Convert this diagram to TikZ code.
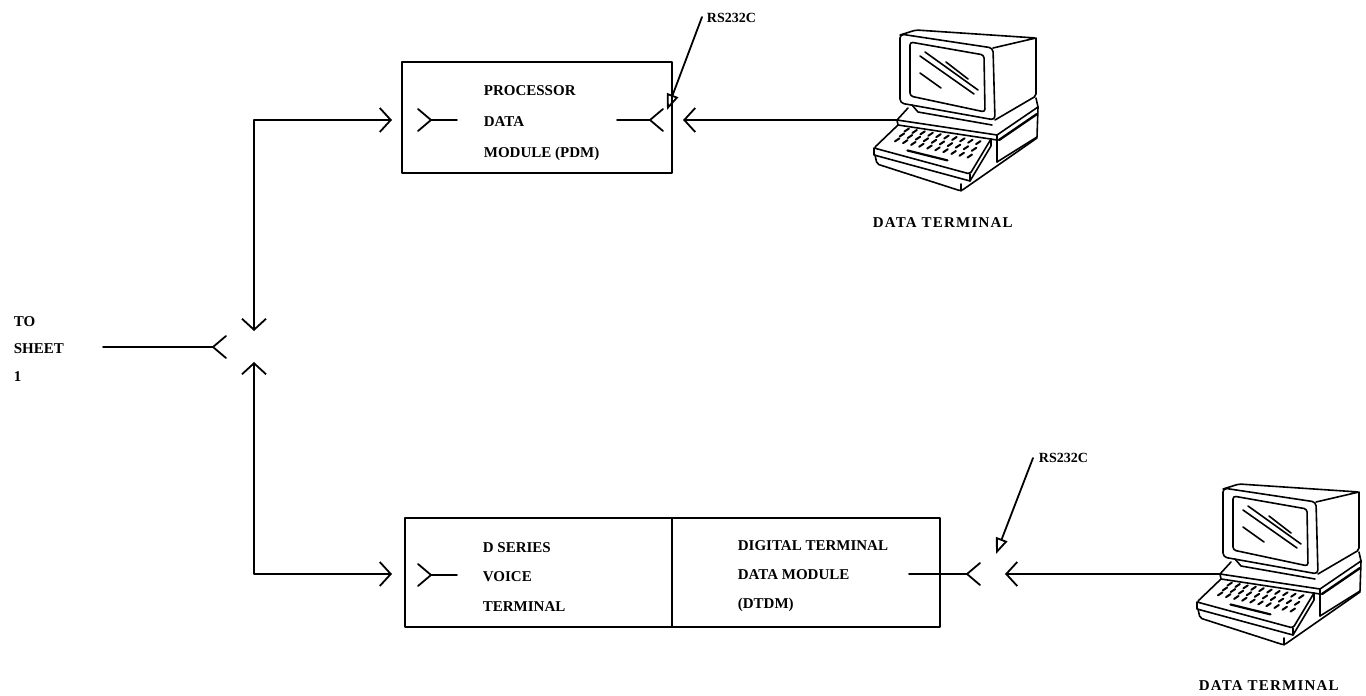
\documentclass[tikz,border=0pt]{standalone}
\usepackage{fontspec}
\setmainfont{Liberation Serif}
\newfontfamily\widefont[LetterSpace=8]{Liberation Serif}
\usetikzlibrary{arrows.meta}

\newcommand\lblfont{\fontsize{15}{18}\selectfont\bfseries}
\newcommand\rsfont{\fontsize{14}{17}\selectfont\bfseries}
\newcommand\termfont{\widefont\fontsize{15}{18}\selectfont\bfseries}

\tikzset{
  box/.style={draw, inner sep=0pt},
  lbl/.style={font=\lblfont, inner sep=0pt, anchor=base west},
  rslbl/.style={font=\rsfont, inner sep=0pt, anchor=west},
  termlbl/.style={font=\termfont, inner sep=0pt, anchor=base west},
  rsarrow/.style={-{Triangle[open,length=16pt,width=12pt]}, line width=1.8pt},
  % plug end: fork opening to the left, stem leaving to the right
  plugL/.pic={\draw (-13,-11) -- (0,0) -- (-13,11);},
  % socket end: fork opening to the right, stem leaving to the left
  plugR/.pic={\draw (13,-11) -- (0,0) -- (13,11);},
  % desktop data terminal, local pixel frame, cable port at (37,90)
  terminal/.pic={
    \begin{scope}[line width=1.6pt]
      % monitor
      \draw[rounded corners=4pt] (40,4) -- (133,18) -- (135,90) -- (40,73) -- cycle;
      \draw[rounded corners=3pt] (50,12) -- (124,25) -- (125,82) -- (50,66) -- cycle;
      \draw[rounded corners=2pt] (40,5) -- (56,0) -- (176,8) -- (133,18);
      \draw[rounded corners=2pt] (176,8) -- (176,66) -- (135,90);
      \draw (60,26) -- (114,64);
      \draw (65,22) -- (118,60);
      \draw (86,32) -- (108,49);
      \draw (60,43) -- (81,58);
      \draw (52,75) -- (58,82) -- (132,95);
      % base unit
      \draw (48,78) -- (37,90) -- (137,105) -- (178,77) -- (176,68);
      \draw (37,90) -- (38,95) -- (137,110);
      \draw (137,105) -- (137,132);
      \draw (178,77) -- (177,107) -- (137,132);
      \draw[line width=2.4pt] (139,110) -- (177,84);
      % keyboard
      \draw[rounded corners=2pt] (38,95) -- (14,118) -- (110,144) -- (131,109);
      \draw (14,118) -- (14,125) -- (110,151) -- (110,144);
      \draw (110,151) -- (131,116) -- (131,109);
      \draw[rounded corners=2pt] (15,125) -- (17,134) -- (101,161) -- (177,108);
      \draw (101,161) -- (101,154);
      % keys
      \begin{scope}[line width=2pt]
        \foreach \v in {0.2,0.4,0.6} {
          \foreach \u in {0.12,0.205,...,0.9} {
            \pgfmathsetmacro\kx{(1-\v)*((1-\u)*38+\u*131)+\v*((1-\u)*14+\u*110)}
            \pgfmathsetmacro\ky{(1-\v)*((1-\u)*95+\u*109)+\v*((1-\u)*118+\u*144)}
            \draw (\kx,\ky) -- ++(4.5,-3);
          }
        }
      \end{scope}
      \pgfmathsetmacro\sax{0.2*((1-0.3)*38+0.3*131)+0.8*((1-0.3)*14+0.3*110)}
      \pgfmathsetmacro\say{0.2*((1-0.3)*95+0.3*109)+0.8*((1-0.3)*118+0.3*144)}
      \pgfmathsetmacro\sbx{0.2*((1-0.72)*38+0.72*131)+0.8*((1-0.72)*14+0.72*110)}
      \pgfmathsetmacro\sby{0.2*((1-0.72)*95+0.72*109)+0.8*((1-0.72)*118+0.72*144)}
      \draw[line width=2.2pt] (\sax,\say) -- (\sbx,\sby);
    \end{scope}
  }
}

\begin{document}
\begin{tikzpicture}[x=1pt, y=-1pt, line width=1.8pt, line cap=round, line join=round,
  >={Straight Barb[length=11pt,width=24pt]}]
\useasboundingbox (0,0) rectangle (1366,696);

% ---- module boxes
\node[box, minimum width=270pt, minimum height=111pt] (pdm) at (537,117.5) {};
\node[box, minimum width=267pt, minimum height=109pt] (dsv) at (538.5,572.5) {};
\node[box, minimum width=268pt, minimum height=109pt] (dtdm) at (806,572.5) {};

% ---- box texts
\node[lbl] (pdm1) at (483,95)  {PROCESSOR};
\node[lbl] (pdm2) at (483,126) {DATA};
\node[lbl] (pdm3) at (483,157) {MODULE (PDM)};

\node[lbl] (dsv1) at (482,552) {D SERIES};
\node[lbl] (dsv2) at (482,581) {VOICE};
\node[lbl] (dsv3) at (482,611) {TERMINAL};

\node[lbl] (dt1) at (737,550) {DIGITAL TERMINAL};
\node[lbl] (dt2) at (737,579) {DATA MODULE};
\node[lbl] (dt3) at (737,608) {(DTDM)};

\node[lbl] (to1) at (13,326) {TO};
\node[lbl] (to2) at (13,353) {SHEET};
\node[lbl] (to3) at (13,381) {1};

% ---- data terminals
\pic at (860,30)  {terminal};
\pic at (1183,484) {terminal};
\coordinate (term1) at (897,120);
\coordinate (term2) at (1220,574);
\node[termlbl] (tl1) at (872,227) {DATA TERMINAL};
\node[termlbl] (tl2) at (1198,690) {DATA TERMINAL};

% ---- connector points
\coordinate (pdmIn)   at (431,120);
\coordinate (pdmInS)  at (457,120);
\coordinate (pdmOut)  at (650,120);
\coordinate (pdmOutS) at (617,120);
\coordinate (dsvIn)   at (431,575);
\coordinate (dsvInS)  at (457,575);
\coordinate (dtOut)   at (967,574);
\coordinate (dtOutS)  at (909,574);
\coordinate (sheet)   at (213,347);
\coordinate (sheetS)  at (103,347);
\coordinate (hubTop)  at (254,331);
\coordinate (hubBot)  at (254,362);
\coordinate (pdmTip)  at (392,120);
\coordinate (dsvTip)  at (392,574);
\coordinate (pdmPort) at (683,120);
\coordinate (dtPort)  at (1005,574);

% plug symbols
\draw (pdmIn) -- (pdmInS);   \pic at (pdmIn) {plugL};
\draw (pdmOutS) -- (pdmOut); \pic at (pdmOut) {plugR};
\draw (dsvIn) -- (dsvInS);   \pic at (dsvIn) {plugL};
\draw (dtOutS) -- (dtOut);   \pic at (dtOut) {plugR};
\draw (sheetS) -- (sheet);   \pic at (sheet) {plugR};

% cables
\draw[<->] (hubTop) |- (pdmTip);
\draw[<->] (hubBot) |- (dsvTip);
\draw[->] (term1) -- (pdmPort);
\draw[->] (term2) -- (dtPort);

% RS232C interface callouts
\node[rslbl] (rs1) at (706,18) {RS232C};
\node[rslbl] (rs2) at (1038,458) {RS232C};
\coordinate (rs1tip) at (667,110);
\coordinate (rs2tip) at (996,554);
\draw[rsarrow] ([xshift=-4pt,yshift=1pt]rs1.west) -- (rs1tip);
\draw[rsarrow] ([xshift=-5pt]rs2.west) -- (rs2tip);
\end{tikzpicture}
\end{document}
